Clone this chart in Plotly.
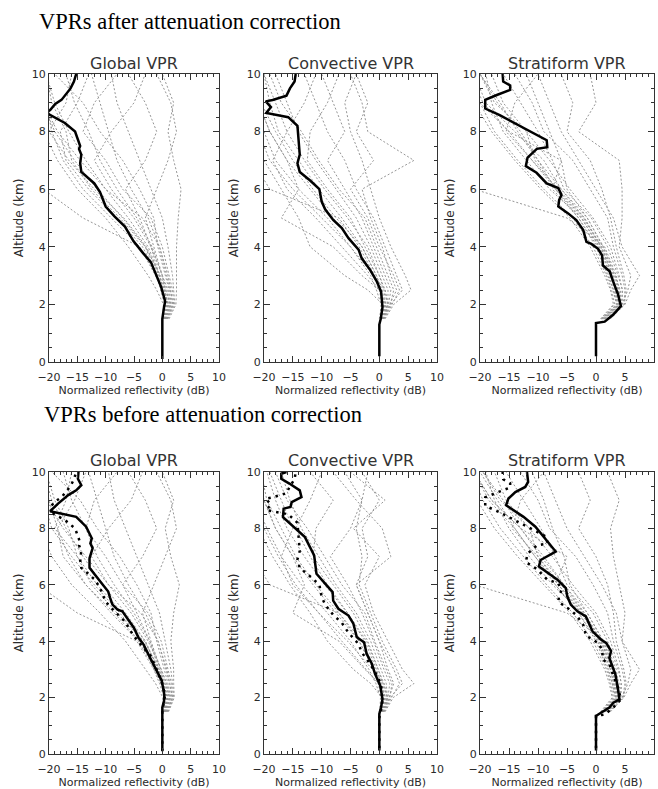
import plotly.graph_objects as go

# ---------------- data ----------------
ALT = [1.5, 2, 2.5, 3, 4, 5, 6, 7, 8, 9, 10]

# individual profiles (gray dashed), x-values at ALT levels
GA_PROFILES = [
    [0.0, 0.4, -0.3, -1.0, -3.0, -7.0, -11.5, -15.5, -19.0, -21.0, -22.0],
    [0.2, 0.8, 0.3, -0.5, -2.5, -6.0, -10.0, -13.5, -16.5, -19.0, -20.5],
    [0.5, 1.3, 0.8, 0.0, -1.8, -4.5, -8.0, -11.0, -13.0, -15.5, -17.0],
    [0.8, 1.8, 1.5, 1.0, -0.5, -2.5, -5.5, -8.0, -9.5, -11.0, -12.5],
    [1.0, 2.2, 2.0, 1.8, 1.0, 0.0, -2.0, -4.0, -6.0, -8.0, -9.0],
    [1.2, 2.4, 2.5, 2.5, 2.5, 2.8, 3.3, 2.0, 1.0, 2.0, 0.0],
    [0.3, 0.9, 0.5, 0.0, -1.5, -3.0, -1.0, 1.0, 2.5, 1.5, -1.0],
    [0.1, 0.2, -1.0, -2.5, -6.0, -10.0, -15.0, -18.5, -21.0, -22.0, -22.0],
    [0.4, 1.0, 0.0, -1.0, -4.0, -14.0, -21.0, -22.0, -22.0, -22.0, -22.0],
    [0.6, 1.5, 1.0, 0.0, -2.0, -5.0, -9.0, -12.0, -9.0, -5.0, -3.0],
    [0.2, 0.6, 0.0, -0.8, -3.5, -8.0, -13.0, -17.0, -18.0, -15.0, -13.0],
    [0.7, 1.6, 1.2, 0.5, -0.8, -1.5, -4.0, -7.0, -11.0, -14.0, -19.0],
    [0.3, 0.7, 0.0, -1.2, -4.0, -9.0, -14.0, -17.5, -19.5, -20.5, -21.0],
    [0.5, 1.1, 0.4, -0.6, -2.8, -6.8, -12.0, -16.5, -20.0, -17.0, -16.0],
    [0.9, 2.0, 1.8, 1.2, 0.0, -2.0, -7.0, -10.0, -14.0, -12.0, -8.0],
    [0.4, 1.1, 0.2, -0.5, -2.0, -4.0, -6.5, -3.0, -1.0, -3.0, -6.0],
    [0.6, 1.4, 0.6, -0.3, -3.0, -7.5, -12.5, -16.0, -17.0, -19.5, -20.5],
    [0.8, 1.9, 1.4, 0.8, -0.5, -3.5, -10.0, -14.5, -18.5, -21.0, -21.5],
]
CA_PROFILES = [
    [0.0, 0.5, 0.0, -1.0, -4.0, -8.0, -12.0, -16.0, -19.0, -21.0, -22.0],
    [0.3, 1.0, 0.5, -0.5, -3.0, -6.5, -10.5, -14.0, -17.5, -19.0, -20.0],
    [0.5, 1.5, 1.5, 0.5, -1.5, -4.0, -7.5, -11.0, -14.0, -16.0, -18.0],
    [0.8, 2.0, 4.0, 3.0, 1.0, -1.0, -4.0, -6.0, -9.0, -11.0, -13.0],
    [1.0, 2.5, 5.5, 4.5, 2.0, 0.0, -1.5, -3.0, -5.0, -6.0, -4.0],
    [0.6, 1.8, 3.0, 2.0, 0.5, -1.5, -3.0, 6.0, -2.0, -3.0, -5.0],
    [0.2, 0.6, -2.0, -6.0, -12.0, -14.0, -17.0, -20.0, -22.0, -22.0, -22.0],
    [0.4, 1.2, 0.0, -3.0, -8.0, -17.0, -14.0, -16.0, -19.0, -21.0, -22.0],
    [0.1, 0.3, -0.5, -1.5, -5.0, -9.0, -14.0, -18.0, -20.0, -22.0, -22.0],
    [0.7, 1.6, 2.0, 1.0, -1.0, -3.0, -6.0, -9.0, -6.0, -8.0, -10.0],
    [0.5, 1.4, 1.0, 0.0, -2.5, -5.0, -9.0, -12.5, -12.0, -9.0, -7.0],
    [0.3, 0.8, 0.2, -0.8, -3.5, -7.0, -19.0, -22.0, -22.0, -22.0, -22.0],
    [0.2, 0.7, 0.3, -0.5, -3.0, -7.5, -11.5, -15.0, -18.0, -20.5, -21.0],
    [0.4, 1.1, 0.8, 0.0, -2.0, -5.5, -9.5, -13.0, -16.0, -13.0, -11.0],
    [0.9, 2.2, 3.5, 2.5, 0.0, -2.0, -5.0, -1.0, -4.0, -2.0, -4.0],
    [0.6, 1.5, 1.0, -1.0, -5.0, -10.0, -15.0, -19.0, -21.0, -22.0, -22.0],
    [0.3, 0.9, 0.0, -2.0, -6.5, -11.0, -16.0, -18.5, -16.0, -18.0, -20.0],
    [0.7, 1.9, 2.5, 1.5, -0.5, -2.5, -7.0, -10.5, -13.5, -17.0, -19.0],
]
SA_PROFILES = [
    [1.0, 3.5, 3.0, 2.0, 0.0, -3.0, -7.0, -10.0, -13.0, -17.0, -20.0],
    [1.5, 4.0, 3.8, 3.0, 1.0, -2.0, -6.0, -9.0, -14.0, -19.0, -21.0],
    [2.0, 4.5, 4.5, 4.0, 2.5, -0.5, -4.5, -8.0, -12.0, -16.0, -18.0],
    [2.5, 5.0, 6.0, 7.5, 4.5, 3.0, 0.0, -3.0, -6.0, -8.0, -10.0],
    [2.0, 4.5, 5.5, 6.0, 4.0, 4.5, 4.5, 4.0, -3.0, 0.0, -1.0],
    [1.2, 3.8, 3.2, 2.5, 0.5, -2.5, -8.0, -12.0, -16.0, -18.0, -19.0],
    [0.8, 3.0, 2.5, 1.5, -1.0, -4.5, -9.5, -14.0, -18.0, -21.0, -22.0],
    [1.5, 4.2, 4.0, 3.5, 1.5, -5.0, -21.0, -22.0, -22.0, -22.0, -22.0],
    [1.0, 3.6, 3.0, 2.2, 0.3, -3.0, -7.5, -6.0, -15.0, -20.0, -22.0],
    [1.8, 4.3, 4.2, 3.2, 1.2, -1.5, -5.0, -6.0, -8.0, -10.0, -12.0],
    [1.3, 4.0, 3.5, 2.8, 0.8, -2.0, -6.5, -11.0, -15.5, -14.0, -10.0],
    [2.2, 4.8, 5.0, 4.5, 3.0, 2.0, -1.0, -4.0, -9.0, -11.0, -14.0],
    [1.1, 3.7, 3.3, 2.6, 0.6, -2.5, -7.0, -11.0, -15.0, -19.5, -21.5],
    [1.6, 4.1, 3.9, 3.3, 1.3, -1.5, -6.0, -10.0, -13.5, -16.5, -20.0],
    [2.3, 4.9, 5.2, 4.8, 3.5, 2.5, 1.0, -1.0, -5.0, -4.0, -6.0],
    [0.9, 3.2, 2.7, 1.8, -0.5, -4.0, -9.0, -13.5, -17.5, -20.0, -22.0],
    [1.4, 3.9, 3.4, 2.9, 0.9, -2.2, -6.8, -10.5, -12.0, -17.5, -20.0],
    [1.9, 4.4, 4.6, 3.8, 2.0, -0.8, -5.5, -7.5, -10.0, -13.0, -16.0],
]
GB_PROFILES = [
    [0.0, 0.3, -0.5, -1.5, -3.5, -7.5, -12.0, -16.0, -19.5, -21.0, -22.0],
    [0.2, 0.7, 0.2, -0.8, -3.0, -6.5, -10.5, -14.0, -17.0, -19.5, -21.0],
    [0.5, 1.2, 0.7, -0.2, -2.2, -5.0, -8.5, -11.5, -13.5, -16.0, -17.5],
    [0.8, 1.7, 1.3, 0.8, -0.8, -3.0, -6.0, -8.5, -10.0, -11.5, -13.0],
    [1.0, 2.0, 1.8, 1.5, 0.5, -0.5, -2.5, -4.5, -6.5, -8.5, -9.5],
    [1.1, 2.1, 2.0, 2.0, 1.5, 2.0, 3.0, 1.5, 0.5, 2.0, 0.0],
    [0.3, 0.8, 0.3, -0.3, -2.0, -3.5, -1.5, 0.5, 2.5, 1.5, -1.0],
    [0.1, 0.1, -1.2, -3.0, -6.5, -11.0, -16.0, -19.5, -21.5, -22.0, -22.0],
    [0.4, 0.9, -0.2, -1.5, -4.5, -15.0, -22.0, -22.0, -22.0, -22.0, -22.0],
    [0.6, 1.4, 0.8, -0.2, -2.5, -5.5, -9.5, -12.5, -9.5, -5.5, -3.5],
    [0.2, 0.5, -0.2, -1.0, -4.0, -8.5, -13.5, -17.5, -18.5, -15.5, -13.5],
    [0.7, 1.5, 1.0, 0.3, -1.0, -2.0, -4.5, -7.5, -11.5, -14.5, -19.5],
    [0.3, 0.6, -0.1, -1.3, -4.2, -9.0, -13.5, -16.5, -18.5, -20.0, -21.0],
    [0.5, 1.0, 0.3, -0.7, -3.0, -7.0, -11.5, -15.0, -19.0, -17.0, -16.0],
    [0.9, 1.8, 1.6, 1.0, -0.2, -2.5, -7.0, -10.0, -13.5, -12.0, -8.0],
    [0.4, 1.0, 0.1, -0.6, -2.2, -4.5, -7.0, -3.5, -1.0, -3.0, -6.0],
    [0.6, 1.3, 0.5, -0.5, -3.2, -8.0, -12.5, -15.0, -16.5, -19.0, -20.5],
    [0.8, 1.8, 1.3, 0.6, -0.7, -3.8, -9.5, -13.5, -17.5, -20.5, -21.5],
]
CB_PROFILES = [
    [0.0, 0.4, -0.2, -1.0, -3.5, -7.5, -11.5, -15.0, -18.0, -20.0, -21.0],
    [0.3, 0.9, 0.4, -0.5, -2.5, -5.5, -9.5, -13.0, -16.0, -18.0, -19.5],
    [0.5, 1.4, 1.2, 0.3, -1.5, -4.0, -7.5, -10.5, -13.5, -15.5, -17.0],
    [0.8, 1.9, 4.0, 3.0, 0.5, -1.5, -3.5, -3.0, -4.0, -3.0, -6.0],
    [1.0, 2.4, 6.0, 4.0, 1.5, -1.0, -2.5, 0.0, -4.5, 1.0, -5.0],
    [0.6, 1.7, 2.5, 1.5, 0.0, -2.0, -4.0, 2.0, 0.5, -4.0, -8.0],
    [0.2, 0.5, -1.5, -4.5, -9.0, -12.0, -15.5, -18.5, -21.0, -22.0, -22.0],
    [0.4, 1.1, 0.0, -2.5, -7.0, -15.0, -13.0, -15.0, -18.0, -20.0, -21.0],
    [0.1, 0.2, -0.6, -1.8, -5.0, -9.0, -13.5, -17.0, -19.5, -21.5, -22.0],
    [0.7, 1.5, 1.8, 0.8, -1.0, -3.0, -5.5, -8.5, -5.0, -3.0, -2.0],
    [0.5, 1.3, 0.8, -0.2, -2.0, -4.5, -8.0, -11.5, -11.0, -8.0, -12.0],
    [0.3, 0.7, 0.1, -1.0, -3.5, -7.0, -19.0, -22.0, -22.0, -22.0, -22.0],
    [0.2, 0.6, 0.2, -0.7, -3.0, -7.0, -11.0, -14.5, -17.0, -19.5, -20.5],
    [0.4, 1.0, 0.6, -0.2, -2.2, -5.5, -9.0, -12.0, -14.5, -12.0, -10.0],
    [0.9, 2.1, 3.5, 2.5, 0.0, -2.0, -4.0, -2.0, -3.0, 0.0, -3.0],
    [0.6, 1.4, 0.8, -1.2, -5.5, -10.5, -14.5, -17.5, -20.0, -21.0, -22.0],
    [0.3, 0.8, -0.2, -2.3, -6.5, -10.5, -15.0, -17.0, -15.0, -17.0, -19.0],
    [0.7, 1.8, 2.2, 1.2, -0.8, -2.5, -6.5, -9.5, -12.5, -16.0, -18.0],
]
SB_PROFILES = [
    [1.0, 3.2, 2.8, 2.0, 0.0, -3.0, -7.0, -10.5, -14.0, -17.0, -20.0],
    [1.5, 3.8, 3.5, 3.0, 1.0, -2.0, -5.5, -9.0, -13.0, -18.0, -21.0],
    [2.0, 4.3, 4.3, 4.0, 2.5, 0.0, -4.0, -7.5, -11.5, -15.5, -17.5],
    [2.5, 4.8, 6.0, 7.5, 4.5, 3.5, 1.0, -2.0, -5.0, -7.0, -9.0],
    [2.0, 4.5, 5.5, 6.0, 4.5, 5.0, 4.0, 3.0, 2.5, 4.0, 2.0],
    [1.2, 3.5, 3.0, 2.5, 0.5, -2.5, -7.5, -11.5, -15.0, -17.5, -19.0],
    [0.8, 2.8, 2.3, 1.5, -1.0, -4.5, -9.0, -13.5, -17.5, -20.5, -22.0],
    [1.5, 4.0, 3.8, 3.5, 1.5, -5.0, -21.0, -22.0, -22.0, -22.0, -22.0],
    [1.0, 3.4, 2.8, 2.2, 0.3, -3.0, -7.0, -5.0, -13.0, -18.0, -21.0],
    [1.8, 4.0, 4.0, 3.2, 1.2, -1.5, -4.5, -5.5, -7.5, -9.0, -11.0],
    [1.3, 3.7, 3.3, 2.8, 0.8, -2.0, -6.0, -10.0, -14.5, -13.0, -9.0],
    [2.2, 4.6, 5.0, 4.5, 3.0, 2.0, -0.5, -3.5, -8.0, -10.0, -13.0],
    [1.1, 3.5, 3.1, 2.5, 0.6, -2.5, -6.5, -10.5, -14.0, -18.5, -21.0],
    [1.6, 3.9, 3.7, 3.2, 1.3, -1.5, -5.5, -9.5, -13.0, -16.0, -19.5],
    [2.3, 4.7, 5.2, 4.8, 3.5, 3.0, 2.0, 0.0, -3.0, -1.0, -3.0],
    [0.9, 3.0, 2.5, 1.8, -0.5, -4.0, -8.5, -12.5, -16.5, -19.5, -21.5],
    [1.4, 3.7, 3.3, 2.8, 0.9, -2.2, -6.5, -10.0, -11.5, -16.5, -19.5],
    [1.9, 4.2, 4.4, 3.8, 2.0, -0.5, -5.0, -7.0, -9.5, -12.5, -15.5],
]

# mean profiles (thick black)
GA_MEAN_ALT = [0.1, 1.5, 1.9, 2.1, 2.6, 3.05, 3.46, 3.78, 4.2, 4.7, 5.05, 5.4, 5.75, 5.9, 6.2, 6.6,
               6.9, 7.2, 7.4, 7.5, 8.0, 8.3, 8.6, 8.68, 8.75, 8.96, 9.1, 9.5, 9.74, 10.0]
GA_MEAN_X = [0.0, 0.0, 0.3, 0.5, -0.2, -1.1, -2.0, -3.4, -5.1, -6.6, -8.4, -10.0, -10.7, -11.0, -12.0, -14.3,
             -14.5, -14.3, -14.7, -14.5, -15.4, -17.2, -20.0, -20.3, -19.8, -18.9, -17.8, -16.2, -15.6, -15.2]

CA_MEAN_ALT = [0.2, 1.3, 1.5, 1.9, 2.45, 2.8, 3.2, 3.6, 3.9, 4.05, 4.3, 4.65, 4.93, 5.3, 5.57, 6.0, 6.3,
               6.6, 6.9, 7.2, 7.6, 8.2, 8.5, 8.65, 8.85, 9.05, 9.1, 9.25, 9.5, 9.74, 10.0]
CA_MEAN_X = [0.0, 0.0, 0.25, 0.55, 0.3, -0.45, -1.6, -3.05, -3.6, -4.2, -5.35, -6.5, -8.0, -9.4, -10.0, -10.4, -12.0,
             -13.8, -14.2, -13.8, -14.0, -14.2, -15.8, -19.6, -18.8, -19.7, -18.5, -16.1, -15.5, -14.7, -14.5]

SA_MEAN_ALT = [0.2, 1.35, 1.4, 1.64, 1.94, 2.35, 2.8, 3.15, 3.35, 3.7, 3.93, 4.1, 4.17, 4.58, 4.93, 5.16,
               5.4, 5.63, 5.8, 6.04, 6.2, 6.57, 6.8, 7.1, 7.4, 7.46, 7.7, 8.2, 8.57, 8.8, 9.1, 9.27,
               9.45, 9.6, 9.74, 10.0]
SA_MEAN_X = [0.0, 0.0, 1.5, 2.95, 4.3, 3.8, 2.95, 2.35, 1.2, 1.05, 0.35, -0.8, -1.65, -2.2, -3.4, -4.8,
             -6.5, -6.35, -5.95, -6.5, -8.5, -10.25, -12.1, -11.8, -10.2, -8.4, -8.5, -13.1, -16.6, -19.1, -19.1, -17.1,
             -14.8, -14.8, -16.0, -16.1]

GB_MEAN_ALT = [0.12, 1.65, 1.88, 2.1, 2.6, 2.94, 3.41, 3.88, 4.12, 4.47, 4.88, 5.06, 5.12, 5.3, 5.53, 5.76,
               6.0, 6.24, 6.6, 6.94, 7.3, 7.47, 7.65, 8.06, 8.41, 8.61, 8.88, 9.18, 9.35, 9.53, 9.76, 10.0]
GB_MEAN_X = [0.0, 0.0, 0.3, 0.35, -0.1, -1.0, -2.15, -3.3, -4.2, -5.0, -6.5, -7.05, -7.9, -8.8, -9.2, -9.55,
             -10.5, -11.4, -12.85, -12.85, -12.3, -12.7, -12.45, -13.45, -15.2, -19.8, -18.4, -16.6, -15.2, -14.3, -14.9, -14.8]

CB_MEAN_ALT = [0.12, 1.42, 1.66, 1.95, 2.43, 2.84, 3.2, 3.55, 3.96, 4.14, 4.62, 4.91, 5.15, 5.44, 5.74, 5.98,
               6.39, 7.04, 7.34, 7.69, 8.4, 8.7, 8.76, 8.93, 9.11, 9.35, 9.59, 9.76, 9.94, 10.0]
CB_MEAN_X = [0.0, 0.0, 0.3, 0.55, 0.15, -0.75, -1.3, -2.2, -2.65, -3.9, -4.5, -5.35, -7.1, -8.0, -8.1, -9.15,
             -10.9, -11.3, -12.05, -12.9, -16.7, -16.6, -15.4, -15.2, -13.5, -13.8, -15.6, -17.0, -17.0, -16.1]

SB_MEAN_ALT = [0.12, 1.35, 1.41, 1.65, 1.82, 1.94, 2.35, 2.82, 3.24, 3.41, 3.65, 3.94, 4.06, 4.35, 4.88, 5.06,
               5.3, 5.59, 5.88, 6.18, 6.65, 6.88, 7.18, 7.53, 8.06, 8.41, 8.82, 9.06, 9.29, 9.47, 9.65, 10.0]
SB_MEAN_X = [0.0, 0.0, 0.45, 2.3, 3.0, 4.05, 3.75, 3.35, 2.6, 2.3, 2.6, 1.75, 0.85, -0.6, -1.75, -3.2,
             -4.35, -4.95, -5.2, -6.65, -9.85, -9.55, -6.95, -8.4, -10.45, -12.5, -15.5, -15.1, -13.9, -12.2, -11.7, -11.9]

PANEL_TITLES = ["Global VPR", "Convective VPR", "Stratiform VPR"]
ROW_TITLES = ["VPRs after attenuation correction", "VPRs before attenuation correction"]
X_TITLE = "Normalized reflectivity (dB)"
Y_TITLE = "Altitude (km)"
X_TICKS = [-20, -15, -10, -5, 0, 5, 10]
Y_TICKS = [0, 2, 4, 6, 8, 10]

# ---------------- layout geometry ----------------
W, H = 658, 789
COLS_PX = [(49, 219), (264, 437), (480, 654)]
ROWS_PX = [(74, 362), (472, 754)]

panels = [
    (GA_PROFILES, (GA_MEAN_X, GA_MEAN_ALT), None),
    (CA_PROFILES, (CA_MEAN_X, CA_MEAN_ALT), None),
    (SA_PROFILES, (SA_MEAN_X, SA_MEAN_ALT), None),
    (GB_PROFILES, (GB_MEAN_X, GB_MEAN_ALT), (GA_MEAN_X, GA_MEAN_ALT)),
    (CB_PROFILES, (CB_MEAN_X, CB_MEAN_ALT), (CA_MEAN_X, CA_MEAN_ALT)),
    (SB_PROFILES, (SB_MEAN_X, SB_MEAN_ALT), (SA_MEAN_X, SA_MEAN_ALT)),
]

FONT = "DejaVu Sans"
AXC = "#333333"
TXT = "#2a2a2a"
fig = go.Figure()
annotations = []
layout_axes = {}

for i, (profiles, mean, dotted) in enumerate(panels):
    r, c = divmod(i, 3)
    n = "" if i == 0 else str(i + 1)
    xref, yref = "x" + n, "y" + n
    for prof in profiles:
        fig.add_trace(go.Scatter(x=prof, y=ALT, mode="lines", xaxis=xref, yaxis=yref,
                                 line=dict(color="rgb(150,150,150)", width=1, dash="2px,2px"),
                                 showlegend=False, hoverinfo="skip"))
    if dotted is not None:
        fig.add_trace(go.Scatter(x=dotted[0], y=dotted[1], mode="lines", xaxis=xref, yaxis=yref,
                                 line=dict(color="black", width=2.5, dash="2.5px,5px"),
                                 showlegend=False))
    fig.add_trace(go.Scatter(x=mean[0], y=mean[1], mode="lines", xaxis=xref, yaxis=yref,
                             line=dict(color="black", width=2.5), showlegend=False))

    x0, x1 = COLS_PX[c]
    y0, y1 = ROWS_PX[r]
    common = dict(showline=True, linecolor=AXC, linewidth=1, mirror="ticks", ticks="inside",
                  tickcolor=AXC, ticklen=6, showgrid=False, zeroline=False, automargin=False,
                  tickfont=dict(family=FONT, size=11, color=TXT))
    layout_axes["xaxis" + n] = dict(
        common, domain=[x0 / W, x1 / W], range=[-20, 10], anchor=yref,
        tickmode="array", tickvals=X_TICKS, ticklabelstandoff=5,
        minor=dict(dtick=1, ticks="inside", ticklen=3, tickcolor=AXC),
        title=dict(text=X_TITLE, font=dict(family=FONT, size=11, color=TXT), standoff=2))
    layout_axes["yaxis" + n] = dict(
        common, domain=[1 - y1 / H, 1 - y0 / H], range=[0, 10], anchor=xref,
        tickmode="array", tickvals=Y_TICKS,
        minor=dict(dtick=0.5, ticks="inside", ticklen=3, tickcolor=AXC),
        title=dict(text=Y_TITLE, font=dict(family=FONT, size=12, color=TXT), standoff=5))
    annotations.append(dict(text=PANEL_TITLES[c], x=(x0 + x1) / 2 / W, y=1 - (y0 - 11) / H,
                            xref="paper", yref="paper", xanchor="center", yanchor="middle",
                            showarrow=False, font=dict(family=FONT, size=16, color="#333")))

annotations.append(dict(text=ROW_TITLES[0], x=37 / W, y=1 - 21 / H, xref="paper", yref="paper",
                        xanchor="left", yanchor="middle", showarrow=False,
                        font=dict(family="Liberation Serif", size=22.5, color="black")))
annotations.append(dict(text=ROW_TITLES[1], x=42 / W, y=1 - 414 / H, xref="paper", yref="paper",
                        xanchor="left", yanchor="middle", showarrow=False,
                        font=dict(family="Liberation Serif", size=22.5, color="black")))

fig.update_layout(width=W, height=H, margin=dict(l=0, r=0, t=0, b=0),
                  paper_bgcolor="white", plot_bgcolor="white",
                  annotations=annotations, **layout_axes)

fig.write_html("out.html")
